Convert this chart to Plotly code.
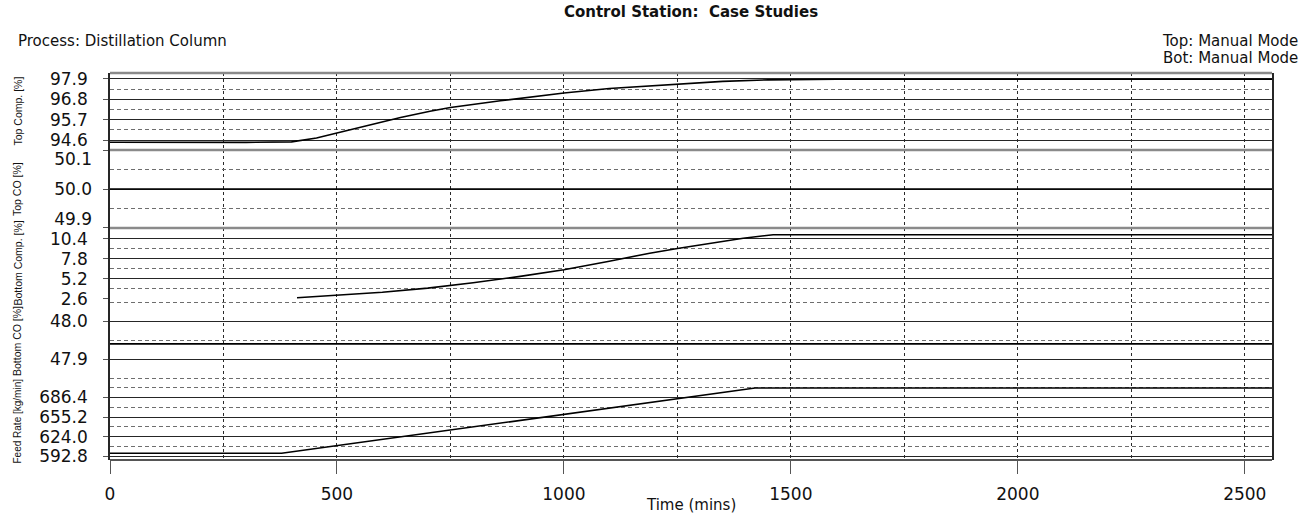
import plotly.graph_objects as go

# ---- trend data (time in minutes) ----
t_top_comp = [0, 150, 300, 400, 425, 455, 500, 530, 575, 615, 640, 705, 750, 860, 1000, 1100, 1255, 1350, 1450, 1600, 2560]
top_comp = [94.48, 94.47, 94.47, 94.50, 94.58, 94.71, 94.98, 95.16, 95.43, 95.70, 95.82, 96.15, 96.36, 96.72,
            97.14, 97.38, 97.64, 97.77, 97.85, 97.88, 97.88]

t_top_co = [0, 2560]
top_co = [50.0, 50.0]

t_bot_comp = [412, 500, 600, 700, 800, 900, 1000, 1100, 1189, 1250, 1336, 1395, 1461, 2560]
bot_comp = [2.75, 3.05, 3.45, 4.0, 4.7, 5.5, 6.4, 7.5, 8.55, 9.15, 9.95, 10.5, 10.96, 10.96]

t_bot_co = [0, 2560]
bot_co = [47.94, 47.94]

t_feed = [0, 378, 1421, 2560]
feed = [597.9, 597.9, 701.4, 701.4]

panel_titles = ["Top Comp. [%]", "Top CO [%]", "Bottom Comp. [%]", "Bottom CO [%]", "Feed Rate [kg/min]"]
x_ticks = [0, 500, 1000, 1500, 2000, 2500]

# ---- layout geometry ----
W, H = 1314, 515
M_L, M_R, M_T, M_B = 110, 42, 73, 55
plot_h = H - M_T - M_B
plot_w = W - M_L - M_R
edges_px = [73, 150, 228, 299, 383, 460]          # panel borders, pixels from top


def py(p):
    return 1 - (p - M_T) / plot_h


def px(p):
    return (p - M_L) / plot_w


domains = [[py(edges_px[i + 1]), py(edges_px[i])] for i in range(5)]

# axis set-up per panel: range, tick0, major step
axes_cfg = [
    dict(rng=[94.06, 98.22], tick0=94.6, dtick=1.1),
    dict(rng=[49.8995, 50.1005], tick0=49.9, dtick=0.1),
    dict(rng=[2.58, 11.83], tick0=2.6, dtick=2.6),
    dict(rng=[47.837, 48.058], tick0=47.9, dtick=0.1),
    dict(rng=[587.2, 709.4], tick0=592.8, dtick=31.2),
]

series = [(t_top_comp, top_comp), (t_top_co, top_co), (t_bot_comp, bot_comp), (t_bot_co, bot_co), (t_feed, feed)]

TICK_FONT = dict(family="DejaVu Sans", size=17, color="#111")
TEXT_FONT = dict(family="DejaVu Sans", size=15, color="#111")
MAJ = "#262626"
MIN = "#6e6e6e"

fig = go.Figure()
for i, (tx, ty) in enumerate(series):
    n = "" if i == 0 else str(i + 1)
    fig.add_trace(go.Scatter(x=tx, y=ty, mode="lines", line=dict(color="#000", width=1.6),
                             xaxis="x" + n, yaxis="y" + n, showlegend=False, hoverinfo="skip"))

layout = dict(
    width=W, height=H, margin=dict(l=M_L, r=M_R, t=M_T, b=M_B, autoexpand=False),
    paper_bgcolor="white", plot_bgcolor="white",
    title=dict(text="<b>Control Station:&nbsp; Case Studies</b>", x=0.5, xref="paper", y=1 - 12 / H,
               yanchor="middle", automargin=False,
               font=dict(family="DejaVu Sans", size=15, color="#111")),
    showlegend=False,
)

for i, cfg in enumerate(axes_cfg):
    n = "" if i == 0 else str(i + 1)
    last = i == 4
    layout["xaxis" + n] = dict(
        domain=[0, 1], anchor="y" + n, range=[0, 2560], matches=None if i == 0 else "x",
        tickmode="array", tickvals=x_ticks, automargin=False,
        showgrid=True, gridcolor="#2a2a2a", griddash="3px,3px", gridwidth=1,
        minor=dict(dtick=250, tick0=0, showgrid=True, gridcolor="#2a2a2a", griddash="3px,3px", gridwidth=1),
        showticklabels=last, ticks="outside" if last else "", ticklen=13, tickcolor="#555",
        tickfont=TICK_FONT, ticklabelstandoff=6, zeroline=False, showline=False,
    )
    layout["yaxis" + n] = dict(
        domain=domains[i], anchor="x" + n, range=cfg["rng"], automargin=False,
        tickmode="linear", tick0=cfg["tick0"], dtick=cfg["dtick"], tickformat=".1f",
        showgrid=True, gridcolor=MAJ, gridwidth=1,
        minor=dict(tick0=cfg["tick0"], dtick=cfg["dtick"] / 2, showgrid=True, gridcolor=MIN,
                   griddash="4px,3px", gridwidth=1),
        ticks="outside", ticklen=5, tickcolor="#555",
        showticklabels=(i != 1), tickfont=TICK_FONT, ticklabelstandoff=12,
        zeroline=False, showline=True, linecolor=MAJ, linewidth=1.5, mirror=True,
    )

# Top CO labels sit inside the panel at its edges, so they get their own overlay axis
co = axes_cfg[1]
span = co["rng"][1] - co["rng"][0]
dom_px = edges_px[2] - edges_px[1]
off = 9 * span / dom_px
layout["yaxis6"] = dict(
    overlaying="y2", anchor="x2", range=co["rng"], side="left", automargin=False,
    tickmode="array", tickvals=[50.1 - off, 50.0, 49.9 + off], ticktext=["50.1", "50.0", "49.9"],
    showgrid=False, ticks="", tickfont=TICK_FONT, ticklabelstandoff=17, zeroline=False, showline=False,
)
fig.add_trace(go.Scatter(x=[None], y=[None], xaxis="x2", yaxis="y6", showlegend=False, hoverinfo="skip"))

fig.update_layout(**layout)

# panel borders
shapes = []
for p, col, wd in [(73, "#8a8a8a", 2.5), (150, "#8a8a8a", 2.5), (228, "#8a8a8a", 2.5), (460, "#555", 2)]:
    shapes.append(dict(type="line", xref="paper", yref="paper", x0=0, x1=1, y0=py(p), y1=py(p),
                       line=dict(color=col, width=wd), layer="above"))
fig.update_layout(shapes=shapes)

# rotated panel captions
for i, name in enumerate(panel_titles):
    mid = (edges_px[i] + edges_px[i + 1]) / 2
    fig.add_annotation(text=name, textangle=-90, xref="paper", yref="paper",
                       x=px(17), y=py(mid), xanchor="center", yanchor="middle",
                       showarrow=False, font=dict(family="Liberation Sans", size=10 if i == 4 else 10.5, color="#111"))

fig.add_annotation(text="Time (mins)", xref="paper", yref="paper", x=0.5, y=py(505),
                   xanchor="center", yanchor="middle", showarrow=False, font=TEXT_FONT)
fig.add_annotation(text="Process: Distillation Column", xref="paper", yref="paper",
                   x=px(16), y=py(41), xanchor="left", yanchor="middle",
                   showarrow=False, font=TEXT_FONT)
fig.add_annotation(text="Top: Manual Mode", xref="paper", yref="paper",
                   x=px(1300), y=py(41), xanchor="right", yanchor="middle",
                   showarrow=False, font=TEXT_FONT)
fig.add_annotation(text="Bot: Manual Mode", xref="paper", yref="paper",
                   x=px(1300), y=py(58), xanchor="right", yanchor="middle",
                   showarrow=False, font=TEXT_FONT)

fig.write_html("out.html")
